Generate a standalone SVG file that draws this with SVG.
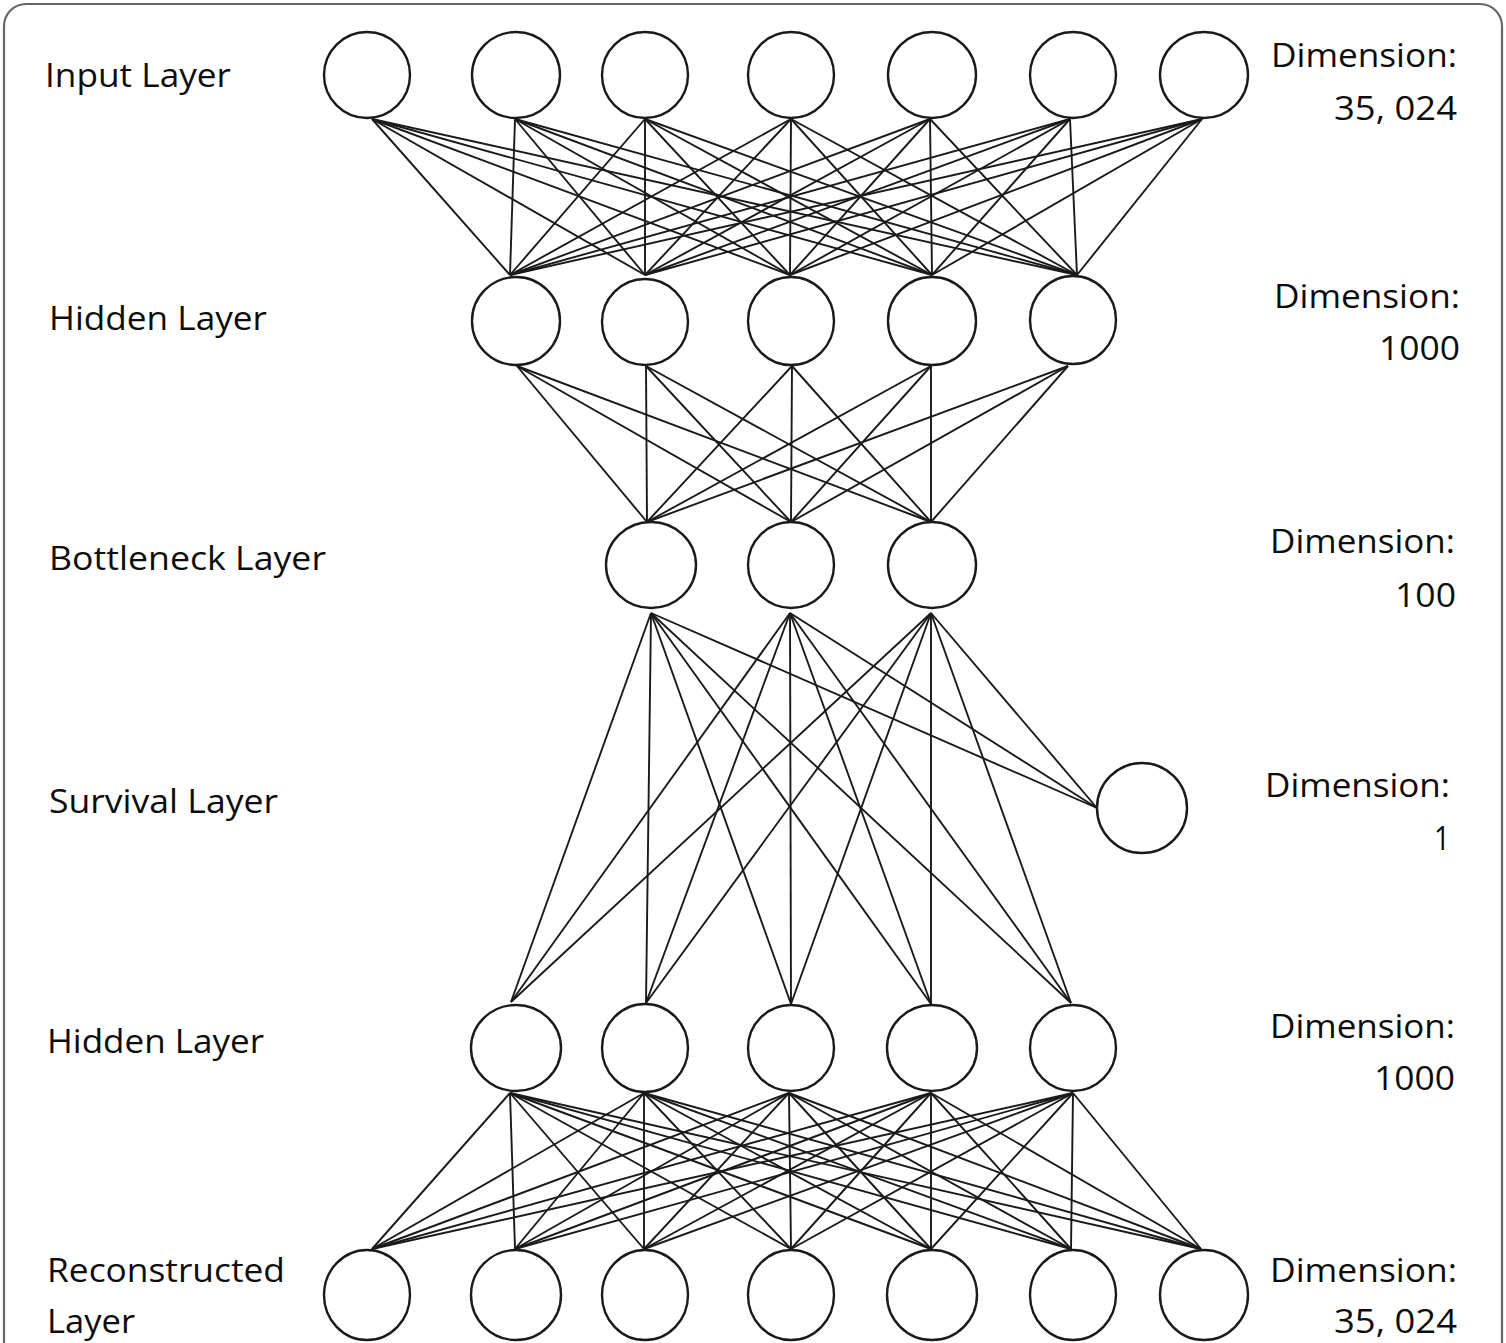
<svg xmlns="http://www.w3.org/2000/svg" width="1506" height="1343" viewBox="0 0 1506 1343">
<style>
.node{fill:#fff;stroke:#1a1a1a;stroke-width:2.4}
.edge{stroke:#1a1a1a;stroke-width:1.9;fill:none}
.lbl{font-family:"Open Sans","Noto Sans","Liberation Sans",sans-serif;font-size:33px;fill:#0d0d0d}
.dim{font-family:"Open Sans","Noto Sans","Liberation Sans",sans-serif;font-size:33px;fill:#0d0d0d;text-anchor:end}
</style>
<rect x="0" y="0" width="1506" height="1343" fill="#fff"/>
<rect x="4" y="4" width="1498" height="1380" rx="22" fill="#fff" stroke="#666" stroke-width="2.2"/>
<g id="connectors">
<line class="edge" x1="372" y1="119" x2="510" y2="275"/><line class="edge" x1="372" y1="119" x2="645" y2="275"/><line class="edge" x1="372" y1="119" x2="790" y2="275"/><line class="edge" x1="372" y1="119" x2="932" y2="275"/><line class="edge" x1="372" y1="119" x2="1077" y2="275"/>
<line class="edge" x1="515" y1="119" x2="510" y2="275"/><line class="edge" x1="515" y1="119" x2="645" y2="275"/><line class="edge" x1="515" y1="119" x2="790" y2="275"/><line class="edge" x1="515" y1="119" x2="932" y2="275"/><line class="edge" x1="515" y1="119" x2="1077" y2="275"/>
<line class="edge" x1="645" y1="119" x2="510" y2="275"/><line class="edge" x1="645" y1="119" x2="645" y2="275"/><line class="edge" x1="645" y1="119" x2="790" y2="275"/><line class="edge" x1="645" y1="119" x2="932" y2="275"/><line class="edge" x1="645" y1="119" x2="1077" y2="275"/>
<line class="edge" x1="791" y1="119" x2="510" y2="275"/><line class="edge" x1="791" y1="119" x2="645" y2="275"/><line class="edge" x1="791" y1="119" x2="790" y2="275"/><line class="edge" x1="791" y1="119" x2="932" y2="275"/><line class="edge" x1="791" y1="119" x2="1077" y2="275"/>
<line class="edge" x1="930" y1="119" x2="510" y2="275"/><line class="edge" x1="930" y1="119" x2="645" y2="275"/><line class="edge" x1="930" y1="119" x2="790" y2="275"/><line class="edge" x1="930" y1="119" x2="932" y2="275"/><line class="edge" x1="930" y1="119" x2="1077" y2="275"/>
<line class="edge" x1="1070" y1="119" x2="510" y2="275"/><line class="edge" x1="1070" y1="119" x2="645" y2="275"/><line class="edge" x1="1070" y1="119" x2="790" y2="275"/><line class="edge" x1="1070" y1="119" x2="932" y2="275"/><line class="edge" x1="1070" y1="119" x2="1077" y2="275"/>
<line class="edge" x1="1202" y1="119" x2="510" y2="275"/><line class="edge" x1="1202" y1="119" x2="645" y2="275"/><line class="edge" x1="1202" y1="119" x2="790" y2="275"/><line class="edge" x1="1202" y1="119" x2="932" y2="275"/><line class="edge" x1="1202" y1="119" x2="1077" y2="275"/>
<line class="edge" x1="517" y1="366" x2="647" y2="522"/><line class="edge" x1="517" y1="366" x2="791" y2="522"/><line class="edge" x1="517" y1="366" x2="931" y2="522"/>
<line class="edge" x1="646" y1="366" x2="647" y2="522"/><line class="edge" x1="646" y1="366" x2="791" y2="522"/><line class="edge" x1="646" y1="366" x2="931" y2="522"/>
<line class="edge" x1="792" y1="366" x2="647" y2="522"/><line class="edge" x1="792" y1="366" x2="791" y2="522"/><line class="edge" x1="792" y1="366" x2="931" y2="522"/>
<line class="edge" x1="931" y1="366" x2="647" y2="522"/><line class="edge" x1="931" y1="366" x2="791" y2="522"/><line class="edge" x1="931" y1="366" x2="931" y2="522"/>
<line class="edge" x1="1068" y1="366" x2="647" y2="522"/><line class="edge" x1="1068" y1="366" x2="791" y2="522"/><line class="edge" x1="1068" y1="366" x2="931" y2="522"/>
<line class="edge" x1="651" y1="613" x2="511" y2="1002"/><line class="edge" x1="651" y1="613" x2="646" y2="1003"/><line class="edge" x1="651" y1="613" x2="791" y2="1004"/><line class="edge" x1="651" y1="613" x2="931" y2="1004"/><line class="edge" x1="651" y1="613" x2="1071" y2="1003"/>
<line class="edge" x1="790" y1="613" x2="511" y2="1002"/><line class="edge" x1="790" y1="613" x2="646" y2="1003"/><line class="edge" x1="790" y1="613" x2="791" y2="1004"/><line class="edge" x1="790" y1="613" x2="931" y2="1004"/><line class="edge" x1="790" y1="613" x2="1071" y2="1003"/>
<line class="edge" x1="931" y1="613" x2="511" y2="1002"/><line class="edge" x1="931" y1="613" x2="646" y2="1003"/><line class="edge" x1="931" y1="613" x2="791" y2="1004"/><line class="edge" x1="931" y1="613" x2="931" y2="1004"/><line class="edge" x1="931" y1="613" x2="1071" y2="1003"/>
<line class="edge" x1="651" y1="613" x2="1097" y2="808"/><line class="edge" x1="790" y1="613" x2="1097" y2="808"/><line class="edge" x1="931" y1="613" x2="1097" y2="808"/>
<line class="edge" x1="510" y1="1093" x2="372" y2="1249"/><line class="edge" x1="510" y1="1093" x2="515" y2="1249"/><line class="edge" x1="510" y1="1093" x2="644" y2="1249"/><line class="edge" x1="510" y1="1093" x2="791" y2="1249"/><line class="edge" x1="510" y1="1093" x2="931" y2="1249"/><line class="edge" x1="510" y1="1093" x2="1071" y2="1249"/><line class="edge" x1="510" y1="1093" x2="1201" y2="1249"/>
<line class="edge" x1="644" y1="1093" x2="372" y2="1249"/><line class="edge" x1="644" y1="1093" x2="515" y2="1249"/><line class="edge" x1="644" y1="1093" x2="644" y2="1249"/><line class="edge" x1="644" y1="1093" x2="791" y2="1249"/><line class="edge" x1="644" y1="1093" x2="931" y2="1249"/><line class="edge" x1="644" y1="1093" x2="1071" y2="1249"/><line class="edge" x1="644" y1="1093" x2="1201" y2="1249"/>
<line class="edge" x1="789" y1="1093" x2="372" y2="1249"/><line class="edge" x1="789" y1="1093" x2="515" y2="1249"/><line class="edge" x1="789" y1="1093" x2="644" y2="1249"/><line class="edge" x1="789" y1="1093" x2="791" y2="1249"/><line class="edge" x1="789" y1="1093" x2="931" y2="1249"/><line class="edge" x1="789" y1="1093" x2="1071" y2="1249"/><line class="edge" x1="789" y1="1093" x2="1201" y2="1249"/>
<line class="edge" x1="931" y1="1093" x2="372" y2="1249"/><line class="edge" x1="931" y1="1093" x2="515" y2="1249"/><line class="edge" x1="931" y1="1093" x2="644" y2="1249"/><line class="edge" x1="931" y1="1093" x2="791" y2="1249"/><line class="edge" x1="931" y1="1093" x2="931" y2="1249"/><line class="edge" x1="931" y1="1093" x2="1071" y2="1249"/><line class="edge" x1="931" y1="1093" x2="1201" y2="1249"/>
<line class="edge" x1="1073" y1="1093" x2="372" y2="1249"/><line class="edge" x1="1073" y1="1093" x2="515" y2="1249"/><line class="edge" x1="1073" y1="1093" x2="644" y2="1249"/><line class="edge" x1="1073" y1="1093" x2="791" y2="1249"/><line class="edge" x1="1073" y1="1093" x2="931" y2="1249"/><line class="edge" x1="1073" y1="1093" x2="1071" y2="1249"/><line class="edge" x1="1073" y1="1093" x2="1201" y2="1249"/>
</g>
<g id="input-layer">
<ellipse id="in1" class="node" cx="367" cy="75" rx="43" ry="43"/>
<ellipse id="in2" class="node" cx="516" cy="75" rx="44" ry="43"/>
<ellipse id="in3" class="node" cx="645" cy="75" rx="43" ry="43"/>
<ellipse id="in4" class="node" cx="791" cy="75" rx="43" ry="43"/>
<ellipse id="in5" class="node" cx="932" cy="75" rx="44" ry="43"/>
<ellipse id="in6" class="node" cx="1073" cy="75" rx="43" ry="43"/>
<ellipse id="in7" class="node" cx="1204" cy="75" rx="44" ry="43"/>
</g>
<g id="hidden-layer-1">
<ellipse id="h1a" class="node" cx="516" cy="321" rx="44" ry="44"/>
<ellipse id="h1b" class="node" cx="645" cy="322" rx="43" ry="43"/>
<ellipse id="h1c" class="node" cx="791" cy="321" rx="43" ry="44"/>
<ellipse id="h1d" class="node" cx="932" cy="321" rx="44" ry="44"/>
<ellipse id="h1e" class="node" cx="1073" cy="320" rx="43" ry="44"/>
</g>
<g id="bottleneck-layer">
<ellipse id="b1" class="node" cx="651" cy="565" rx="45" ry="43"/>
<ellipse id="b2" class="node" cx="791" cy="565" rx="43" ry="43"/>
<ellipse id="b3" class="node" cx="932" cy="565" rx="44" ry="43"/>
</g>
<g id="survival-layer">
<ellipse id="s1" class="node" cx="1142" cy="808" rx="45" ry="45"/>
</g>
<g id="hidden-layer-2">
<ellipse id="h2a" class="node" cx="516" cy="1048" rx="45" ry="43"/>
<ellipse id="h2b" class="node" cx="645" cy="1048" rx="43" ry="44"/>
<ellipse id="h2c" class="node" cx="791" cy="1048" rx="43" ry="43"/>
<ellipse id="h2d" class="node" cx="932" cy="1048" rx="45" ry="43"/>
<ellipse id="h2e" class="node" cx="1073" cy="1048" rx="43" ry="43"/>
</g>
<g id="reconstructed-layer">
<ellipse id="r1" class="node" cx="367" cy="1295" rx="43" ry="45"/>
<ellipse id="r2" class="node" cx="516" cy="1295" rx="45" ry="45"/>
<ellipse id="r3" class="node" cx="645" cy="1295" rx="43" ry="45"/>
<ellipse id="r4" class="node" cx="791" cy="1295" rx="43" ry="45"/>
<ellipse id="r5" class="node" cx="932" cy="1295" rx="45" ry="45"/>
<ellipse id="r6" class="node" cx="1073" cy="1295" rx="43" ry="45"/>
<ellipse id="r7" class="node" cx="1204" cy="1295" rx="44" ry="45"/>
</g>
<g id="layer-labels">
<text class="lbl" x="45" y="87" textLength="186" lengthAdjust="spacingAndGlyphs">Input Layer</text>
<text class="lbl" x="49" y="330" textLength="218" lengthAdjust="spacingAndGlyphs">Hidden Layer</text>
<text class="lbl" x="49" y="570" textLength="277" lengthAdjust="spacingAndGlyphs">Bottleneck Layer</text>
<text class="lbl" x="49" y="813" textLength="229" lengthAdjust="spacingAndGlyphs">Survival Layer</text>
<text class="lbl" x="47" y="1053" textLength="217" lengthAdjust="spacingAndGlyphs">Hidden Layer</text>
<text class="lbl" x="47" y="1282" textLength="238" lengthAdjust="spacingAndGlyphs">Reconstructed</text>
<text class="lbl" x="47" y="1333" textLength="88" lengthAdjust="spacingAndGlyphs">Layer</text>
</g>
<g id="dimension-labels">
<text class="dim" x="1457" y="67" textLength="186" lengthAdjust="spacingAndGlyphs">Dimension:</text>
<text class="dim" x="1457" y="120" textLength="123" lengthAdjust="spacingAndGlyphs">35, 024</text>
<text class="dim" x="1460" y="308" textLength="186" lengthAdjust="spacingAndGlyphs">Dimension:</text>
<text class="dim" x="1460" y="360" textLength="81" lengthAdjust="spacingAndGlyphs">1000</text>
<text class="dim" x="1455" y="553" textLength="185" lengthAdjust="spacingAndGlyphs">Dimension:</text>
<text class="dim" x="1456" y="607" textLength="61" lengthAdjust="spacingAndGlyphs">100</text>
<text class="dim" x="1450" y="797" textLength="185" lengthAdjust="spacingAndGlyphs">Dimension:</text>
<text class="dim" x="1450" y="850" textLength="16" lengthAdjust="spacingAndGlyphs">1</text>
<text class="dim" x="1455" y="1038" textLength="185" lengthAdjust="spacingAndGlyphs">Dimension:</text>
<text class="dim" x="1455" y="1090" textLength="81" lengthAdjust="spacingAndGlyphs">1000</text>
<text class="dim" x="1457" y="1282" textLength="187" lengthAdjust="spacingAndGlyphs">Dimension:</text>
<text class="dim" x="1457" y="1333" textLength="123" lengthAdjust="spacingAndGlyphs">35, 024</text>
</g>
</svg>
